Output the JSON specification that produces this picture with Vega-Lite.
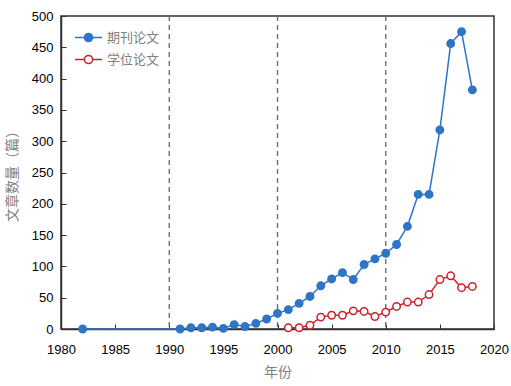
{
  "$schema": "https://vega.github.io/schema/vega-lite/v6.json",
  "width": 433,
  "height": 313,
  "autosize": {"type": "none"},
  "padding": {"left": 61, "top": 16, "right": 17, "bottom": 57},
  "background": "white",
  "config": {
    "view": {"stroke": "#333333", "strokeWidth": 1.5},
    "axis": {
      "grid": false,
      "domainColor": "#333333",
      "domainWidth": 1.5,
      "tickColor": "#333333",
      "tickWidth": 1,
      "labelFont": "Liberation Sans",
      "labelFontSize": 13,
      "labelColor": "#000000",
      "labelFlush": false,
      "labelOverlap": false,
      "titleFont": "Noto Sans CJK SC",
      "titleFontSize": 14,
      "titleFontWeight": "normal",
      "titleColor": "#808080"
    }
  },
  "datasets": {
    "series": [
      {"year": 1982, "series": "期刊论文", "value": 0},
      {"year": 1991, "series": "期刊论文", "value": 0},
      {"year": 1992, "series": "期刊论文", "value": 2},
      {"year": 1993, "series": "期刊论文", "value": 2},
      {"year": 1994, "series": "期刊论文", "value": 3},
      {"year": 1995, "series": "期刊论文", "value": 1},
      {"year": 1996, "series": "期刊论文", "value": 7},
      {"year": 1997, "series": "期刊论文", "value": 4},
      {"year": 1998, "series": "期刊论文", "value": 9},
      {"year": 1999, "series": "期刊论文", "value": 16},
      {"year": 2000, "series": "期刊论文", "value": 25},
      {"year": 2001, "series": "期刊论文", "value": 31},
      {"year": 2002, "series": "期刊论文", "value": 41},
      {"year": 2003, "series": "期刊论文", "value": 52},
      {"year": 2004, "series": "期刊论文", "value": 69},
      {"year": 2005, "series": "期刊论文", "value": 80},
      {"year": 2006, "series": "期刊论文", "value": 90},
      {"year": 2007, "series": "期刊论文", "value": 79},
      {"year": 2008, "series": "期刊论文", "value": 103},
      {"year": 2009, "series": "期刊论文", "value": 112},
      {"year": 2010, "series": "期刊论文", "value": 121},
      {"year": 2011, "series": "期刊论文", "value": 135},
      {"year": 2012, "series": "期刊论文", "value": 164},
      {"year": 2013, "series": "期刊论文", "value": 215},
      {"year": 2014, "series": "期刊论文", "value": 215},
      {"year": 2015, "series": "期刊论文", "value": 318},
      {"year": 2016, "series": "期刊论文", "value": 456},
      {"year": 2017, "series": "期刊论文", "value": 475},
      {"year": 2018, "series": "期刊论文", "value": 382},
      {"year": 2001, "series": "学位论文", "value": 2},
      {"year": 2002, "series": "学位论文", "value": 2},
      {"year": 2003, "series": "学位论文", "value": 6},
      {"year": 2004, "series": "学位论文", "value": 19},
      {"year": 2005, "series": "学位论文", "value": 22},
      {"year": 2006, "series": "学位论文", "value": 22},
      {"year": 2007, "series": "学位论文", "value": 29},
      {"year": 2008, "series": "学位论文", "value": 28},
      {"year": 2009, "series": "学位论文", "value": 20},
      {"year": 2010, "series": "学位论文", "value": 27},
      {"year": 2011, "series": "学位论文", "value": 36},
      {"year": 2012, "series": "学位论文", "value": 43},
      {"year": 2013, "series": "学位论文", "value": 43},
      {"year": 2014, "series": "学位论文", "value": 55},
      {"year": 2015, "series": "学位论文", "value": 79},
      {"year": 2016, "series": "学位论文", "value": 85},
      {"year": 2017, "series": "学位论文", "value": 66},
      {"year": 2018, "series": "学位论文", "value": 68}
    ],
    "rules": [{"year": 1990}, {"year": 2000}, {"year": 2010}]
  },
  "layer": [
    {
      "data": {"name": "rules"},
      "mark": {"type": "rule", "color": "#666666", "strokeWidth": 1.3, "strokeDash": [5, 4]},
      "encoding": {
        "x": {
          "field": "year", "type": "quantitative",
          "scale": {"domain": [1980, 2020], "nice": false, "zero": false},
          "axis": {"title": "年份", "values": [1980, 1985, 1990, 1995, 2000, 2005, 2010, 2015, 2020], "format": "d", "tickSize": -5, "labelPadding": 19, "titlePadding": 9, "labelOverlap": false}
        }
      }
    },
    {
      "data": {"name": "series"},
      "mark": {"type": "line", "strokeWidth": 1.5},
      "encoding": {
        "x": {
          "field": "year", "type": "quantitative",
          "scale": {"domain": [1980, 2020], "nice": false, "zero": false},
          "axis": {"title": "年份", "values": [1980, 1985, 1990, 1995, 2000, 2005, 2010, 2015, 2020], "format": "d", "tickSize": -5, "labelPadding": 19, "titlePadding": 9, "labelOverlap": false}
        },
        "y": {
          "field": "value", "type": "quantitative",
          "scale": {"domain": [0, 500], "nice": false},
          "axis": {"title": "文章数量（篇）", "values": [0, 50, 100, 150, 200, 250, 300, 350, 400, 450, 500], "tickSize": -5, "labelPadding": 13, "titlePadding": 12, "labelOverlap": false}
        },
        "stroke": {
          "field": "series", "type": "nominal",
          "scale": {"domain": ["期刊论文", "学位论文"], "range": ["#2F75C5", "#CC2229"]},
          "legend": {
            "title": null,
            "orient": "none",
            "legendX": 13,
            "legendY": 7,
            "symbolType": "M-1,0L-0.3,0M0.3,0L1,0M-0.3,0A0.3,0.3 0 1 1 0.3,0A0.3,0.3 0 1 1 -0.3,0Z",
            "symbolSize": 729,
            "symbolStrokeWidth": 1.5,
            "labelFont": "Noto Sans CJK SC",
            "labelFontSize": 13,
            "labelColor": "#808080",
            "labelOffset": 4,
            "rowPadding": -2
          }
        },
        "detail": {"field": "series"}
      }
    },
    {
      "data": {"name": "series"},
      "mark": {"type": "point", "filled": false, "size": 55, "strokeWidth": 1.5, "opacity": 1},
      "encoding": {
        "x": {
          "field": "year", "type": "quantitative",
          "axis": {"title": "年份", "values": [1980, 1985, 1990, 1995, 2000, 2005, 2010, 2015, 2020], "format": "d", "tickSize": -5, "labelPadding": 19, "titlePadding": 9, "labelOverlap": false}
        },
        "y": {
          "field": "value", "type": "quantitative",
          "axis": {"title": "文章数量（篇）", "values": [0, 50, 100, 150, 200, 250, 300, 350, 400, 450, 500], "tickSize": -5, "labelPadding": 13, "titlePadding": 12, "labelOverlap": false}
        },
        "stroke": {"field": "series", "type": "nominal"},
        "fill": {
          "field": "series", "type": "nominal",
          "scale": {"domain": ["期刊论文", "学位论文"], "range": ["#2F75C5", "#FFFFFF"]}
        }
      }
    }
  ]
}
